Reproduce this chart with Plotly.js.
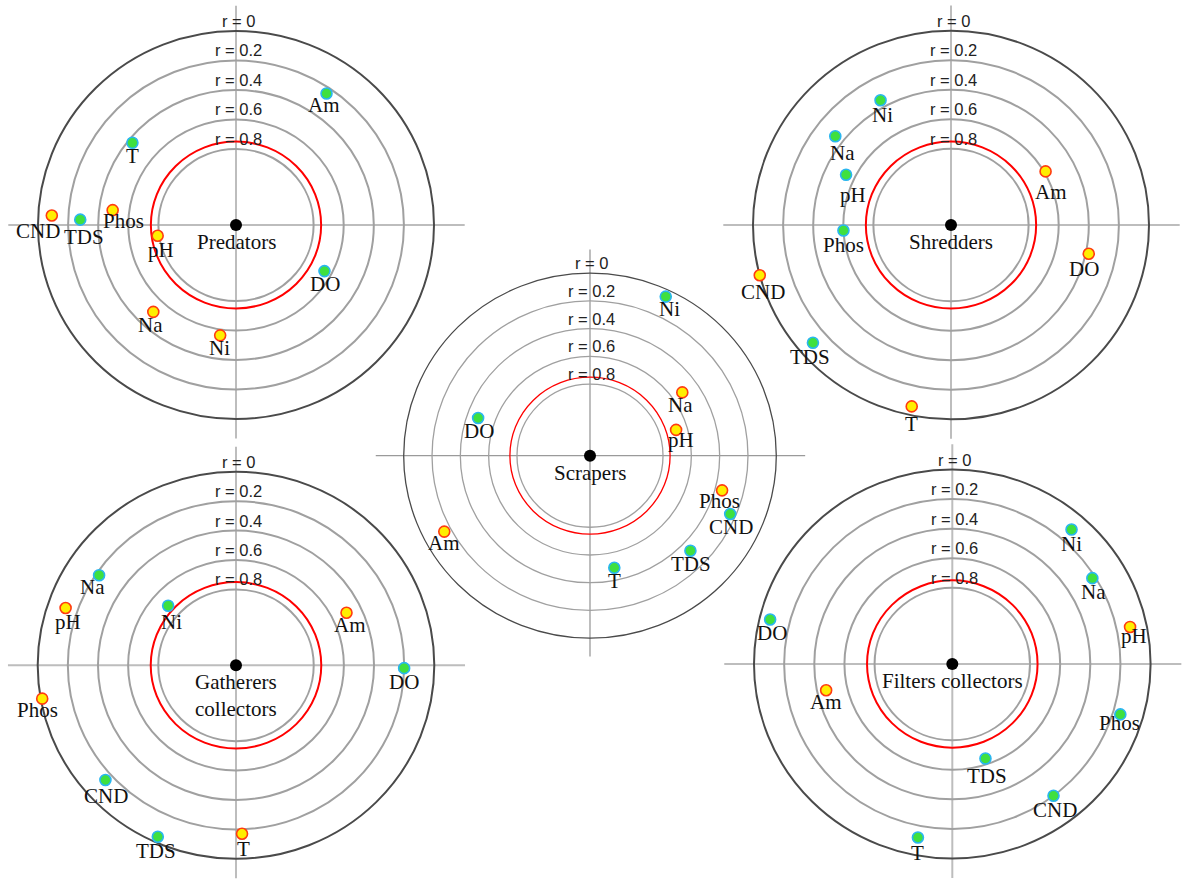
<!DOCTYPE html>
<html>
<head>
<meta charset="utf-8">
<script src="https://cdn.plot.ly/plotly-3.0.1.min.js"></script>
<style>html,body{margin:0;padding:0;background:#fff;}#chart{width:1186px;height:880px;}</style>
</head>
<body>
<div id="chart"></div>
<script>
// ---------- DATA (|r| correlation, sign, angle in degrees) ----------
const ringTicks = [0, 0.2, 0.4, 0.6, 0.8];
const ringLabels = ["r = 0", "r = 0.2", "r = 0.4", "r = 0.6", "r = 0.8"];
const threshold = 0.75;

const predTitle = "Predators";
const predVars  = ["Am", "T", "Phos", "CND", "TDS", "pH", "DO", "Na", "Ni"];
const predR     = [0.24, 0.43, 0.49, 0.09, 0.28, 0.79, 0.65, 0.51, 0.56];
const predSign  = ["+", "+", "-", "-", "+", "-", "+", "-", "-"];
const predAng   = [56, 141, 173, 177, 178, 188, 332, 227, 262];

const shredTitle = "Shredders";
const shredVars  = ["Ni", "Na", "pH", "Phos", "Am", "DO", "CND", "TDS", "T"];
const shredR     = [0.35, 0.34, 0.54, 0.60, 0.59, 0.38, 0.00, 0.10, 0.06];
const shredSign  = ["+", "+", "+", "+", "-", "-", "-", "+", "-"];
const shredAng   = [119, 142, 154, 183, 30, 348, 195, 221, 258];

const scrapTitle = "Scrapers";
const scrapVars  = ["Ni", "Na", "pH", "DO", "Phos", "CND", "TDS", "T", "Am"];
const scrapR     = [0.05, 0.52, 0.68, 0.48, 0.35, 0.24, 0.33, 0.49, 0.15];
const scrapSign  = ["+", "-", "-", "+", "-", "+", "+", "+", "-"];
const scrapAng   = [65, 35, 17, 161, 345, 337, 316, 282, 208];

const gathTitle = "Gatherers<br>collectors";
const gathVars  = ["Na", "pH", "Ni", "Am", "DO", "Phos", "CND", "TDS", "T"];
const gathR     = [0.22, 0.12, 0.71, 0.50, 0.20, 0.01, 0.15, 0.04, 0.17];
const gathSign  = ["+", "-", "+", "-", "+", "-", "+", "+", "-"];
const gathAng   = [146, 161, 138, 26, 359, 190, 222, 246, 272];

const filtTitle = "Filters collectors";
const filtVars  = ["Ni", "Na", "pH", "DO", "Am", "Phos", "TDS", "CND", "T"];
const filtR     = [0.11, 0.22, 0.11, 0.07, 0.46, 0.15, 0.64, 0.20, 0.12];
const filtSign  = ["+", "+", "-", "+", "-", "+", "+", "+", "+"];
const filtAng   = [49, 32, 12, 166, 192, 343, 289, 307, 259];

// ---------- LAYOUT GEOMETRY & STYLE ----------
const W = 1186, H = 880;
const K = 0.76; // radial scale: radius = 1 - K*|r|
const panels = [
  {title: predTitle,  vars: predVars,  r: predR,  s: predSign,  a: predAng,  cx: 236,   cy: 225,   rx: 198,   ry: 194,   thin: false,
   ldx: [-3, 0, 11, -14, 4, 3, 1, -3, -1], ldy: [11, 13, 11, 15, 17, 14, 13, 13, 13]},
  {title: shredTitle, vars: shredVars, r: shredR, s: shredSign, a: shredAng, cx: 951,   cy: 225,   rx: 198,   ry: 194.3, thin: false,
   ldx: [2, 7, 7, 0, 5, -5, 3, -3, 0], ldy: [15, 17, 20, 14, 21, 15, 17, 14, 18]},
  {title: scrapTitle, vars: scrapVars, r: scrapR, s: scrapSign, a: scrapAng, cx: 590,   cy: 455.7, rx: 186.3, ry: 182.5, thin: true,
   ldx: [4, -2, 5, 1, -3, 1, 1, 0, 0], ldy: [12, 13, 10, 13, 11, 13, 13, 13, 11]},
  {title: gathTitle,  vars: gathVars,  r: gathR,  s: gathSign,  a: gathAng,  cx: 236,   cy: 665.3, rx: 198.3, ry: 193.5, thin: false,
   ldx: [-7, 2, 3, 3, 0, -5, 1, -2, 1], ldy: [12, 14, 16, 12, 14, 11, 16, 14, 15]},
  {title: filtTitle,  vars: filtVars,  r: filtR,  s: filtSign,  a: filtAng,  cx: 952.3, cy: 664,   rx: 198.3, ry: 194.5, thin: false,
   ldx: [0, 1, 4, 2, 0, -1, 2, 1, 0], ldy: [15, 14, 9, 14, 12, 9, 18, 14, 15]}
];

const serif = "Liberation Serif, Times New Roman, serif";
const traces = [];
const shapes = [];
const annotations = [];
const layout = {
  width: W, height: H,
  margin: {l: 0, r: 0, t: 0, b: 0},
  paper_bgcolor: "#ffffff",
  plot_bgcolor: "rgba(0,0,0,0)",
  showlegend: false,
  hovermode: false
};

panels.forEach((p, i) => {
  const n = i === 0 ? "" : String(i + 1);
  const xa = "x" + n, ya = "y" + n;
  const d0 = Math.max(0, p.cx - 1.25 * p.rx), d1 = Math.min(W, p.cx + 1.25 * p.rx);
  const t0 = Math.max(0, p.cy - 1.22 * p.ry), t1 = Math.min(H, p.cy + 1.22 * p.ry);
  layout["xaxis" + n] = {
    domain: [d0 / W, d1 / W],
    range: [(d0 - p.cx) / p.rx, (d1 - p.cx) / p.rx],
    visible: false, fixedrange: true, anchor: ya
  };
  layout["yaxis" + n] = {
    domain: [1 - t1 / H, 1 - t0 / H],
    range: [(p.cy - t1) / p.ry, (p.cy - t0) / p.ry],
    visible: false, fixedrange: true, anchor: xa
  };

  const lw = p.thin ? 1.3 : 2;
  const crossCol = p.thin ? "#9a9a9a" : "#bdbdbd";
  shapes.push({type: "line", xref: xa, yref: ya, x0: -1.15, x1: 1.155, y0: 0, y1: 0,
               line: {color: crossCol, width: lw}, layer: "below"});
  shapes.push({type: "line", xref: xa, yref: ya, x0: 0, x1: 0, y0: -1.10, y1: 1.13,
               line: {color: crossCol, width: lw}, layer: "below"});
  ringTicks.forEach((t, k) => {
    const f = 1 - K * t;
    shapes.push({type: "circle", xref: xa, yref: ya, x0: -f, x1: f, y0: -f, y1: f,
                 line: {color: k === 0 ? "#4a4a4a" : "#a0a0a0", width: lw}, layer: "below"});
    annotations.push({xref: xa, yref: ya, x: 0, y: f, xanchor: "center", yanchor: "bottom",
                      xshift: 2, yshift: -1, showarrow: false, text: ringLabels[k],
                      font: {family: "Liberation Sans, Arial, sans-serif", size: 16.5, color: "#222"}});
  });
  const ft = 1 - K * threshold;
  shapes.push({type: "circle", xref: xa, yref: ya, x0: -ft, x1: ft, y0: -ft, y1: ft,
               line: {color: "#ff0000", width: lw}, layer: "below"});

  const xs = [], ys = [];
  p.r.forEach((v, j) => {
    const f = 1 - K * v;
    const ang = p.a[j] * Math.PI / 180;
    xs.push(f * Math.cos(ang));
    ys.push(f * Math.sin(ang));
    annotations.push({xref: xa, yref: ya, x: f * Math.cos(ang), y: f * Math.sin(ang),
                      xanchor: "center", yanchor: "middle", xshift: p.ldx[j], yshift: -p.ldy[j],
                      showarrow: false, text: p.vars[j],
                      font: {family: serif, size: 21, color: "#111"}});
  });
  traces.push({
    type: "scatter", mode: "markers", xaxis: xa, yaxis: ya,
    x: xs, y: ys, cliponaxis: false,
    marker: {size: 11,
             color: p.s.map(s => s === "+" ? "#3fe03f" : "#ffee00"),
             line: {width: 1.6, color: p.s.map(s => s === "+" ? "#29b6f0" : "#ff3b10")}}
  });
  traces.push({type: "scatter", mode: "markers", xaxis: xa, yaxis: ya, x: [0], y: [0],
               cliponaxis: false, marker: {size: 12, color: "#000"}});
  annotations.push({xref: xa, yref: ya, x: 0, y: 0, xanchor: "center", yanchor: "top",
                    yshift: -3, showarrow: false, text: p.title, align: "center",
                    font: {family: serif, size: 21, color: "#111"}});
});

layout.shapes = shapes;
layout.annotations = annotations;

Plotly.newPlot("chart", traces, layout, {staticPlot: true, displayModeBar: false});
</script>
</body>
</html>
